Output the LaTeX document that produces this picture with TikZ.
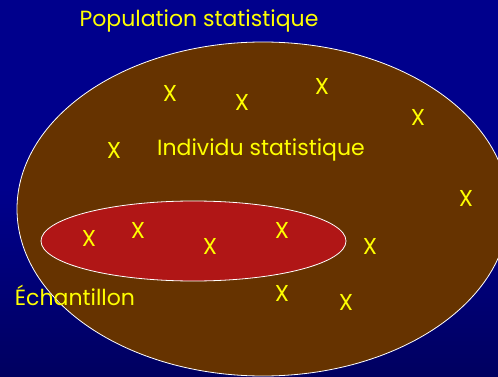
\documentclass[tikz,border=0pt]{standalone}
\usepackage{fontspec}
\setmainfont{Poppins}
\usepackage{tikz}
\usetikzlibrary{shapes.geometric,positioning}
\definecolor{bgtop}{HTML}{00008C}
\definecolor{bgbot}{HTML}{000060}
\definecolor{popfill}{HTML}{663300}
\definecolor{echfill}{HTML}{B01616}
\definecolor{labyel}{HTML}{FFFF00}
\tikzset{
  label/.style={text=labyel,font=\fontsize{22}{24}\selectfont,inner sep=0pt},
  indiv/.style={label,font=\fontsize{23}{24}\selectfont},
  zone/.style={ellipse,draw=white,line width=0.8pt,inner sep=0pt},
}

\begin{document}
\begin{tikzpicture}[x=1pt,y=-1pt]
  % fond
  \shade[top color=bgtop,bottom color=bgbot,middle color=bgtop] (0,0) rectangle (498,377);
  \useasboundingbox (0,0) rectangle (498,377);
  \node[zone,fill=popfill,minimum width=492pt,minimum height=334pt] (pop) at (263,209) {};
  \node[zone,fill=echfill,minimum width=305pt,minimum height=80pt] (ech) at (193.5,241) {};
  \node[label] (poptxt) at (199,21) {Population statistique};
  \node[label] (indtxt) at (261,150) {Individu statistique};
  \node[label] (echtxt) at (75,295) {Échantillon};
  % individus
  \foreach \px/\py [count=\i] in {170/93,242/102,322/86,418/117,114/150,466/198,89/238,138/230,210/246,282/230,370/246,282/293,346/302}
    \node[indiv] (x\i) at (\px,\py) {X};
\end{tikzpicture}
\end{document}
